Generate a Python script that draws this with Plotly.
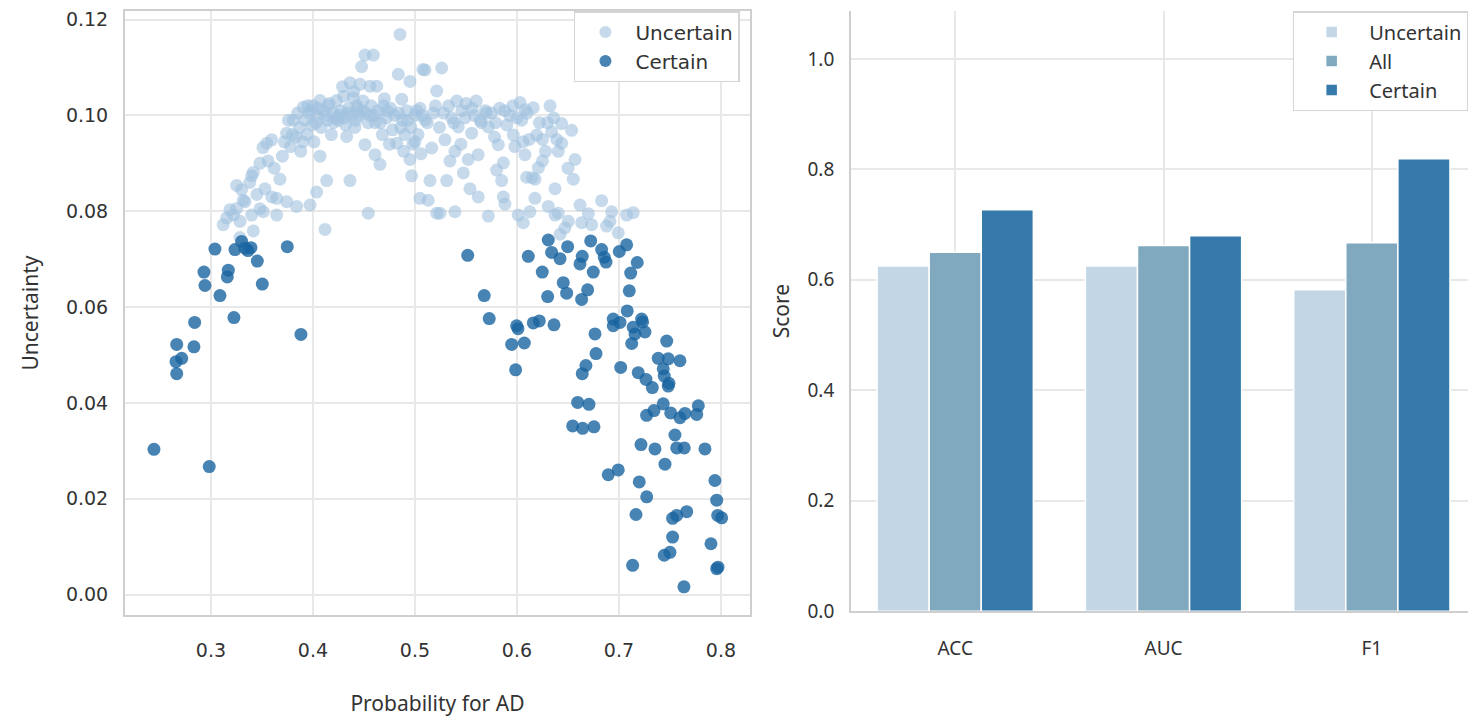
import plotly.graph_objects as go

# Scatter: probability for AD vs. uncertainty, split into uncertain / certain cases
uncertain_prob = [
    0.3120, 0.3154, 0.3186, 0.3219, 0.3252, 0.3284, 0.3284, 0.3317, 0.3333, 0.3252,
    0.3300, 0.3399, 0.3415, 0.3415, 0.3399, 0.3450, 0.3480, 0.3513, 0.3529, 0.3546,
    0.3510, 0.3560, 0.3595, 0.3595, 0.3644, 0.3644, 0.3676, 0.3620, 0.3480, 0.3380,
    0.3742, 0.3742, 0.3700, 0.3720, 0.3760, 0.3780, 0.3807, 0.3840, 0.3830, 0.3850,
    0.3870, 0.3880, 0.3905, 0.3920, 0.3940, 0.3971, 0.3960, 0.3990, 0.4000, 0.4010,
    0.4036, 0.4040, 0.4069, 0.4069, 0.4080, 0.4100, 0.4118, 0.4134, 0.4140, 0.4160,
    0.4180, 0.4200, 0.3900, 0.3800, 0.3950, 0.4232, 0.4250, 0.4270, 0.4300, 0.4320,
    0.4330, 0.4350, 0.4363, 0.4363, 0.4380, 0.4395, 0.4410, 0.4430, 0.4450, 0.4461,
    0.4477, 0.4490, 0.4510, 0.4510, 0.4520, 0.4542, 0.4559, 0.4570, 0.4592, 0.4608,
    0.4610, 0.4625, 0.4640, 0.4657, 0.4680, 0.4700, 0.4720, 0.4750, 0.4760, 0.4780,
    0.4400, 0.4290, 0.4821, 0.4836, 0.4853, 0.4870, 0.4880, 0.4900, 0.4920, 0.4951,
    0.4951, 0.4967, 0.4980, 0.5000, 0.5017, 0.5030, 0.5049, 0.5060, 0.5078, 0.5098,
    0.5100, 0.5130, 0.5147, 0.5164, 0.5180, 0.5213, 0.5213, 0.5245, 0.5262, 0.5294,
    0.5240, 0.4890, 0.5000, 0.5311, 0.5330, 0.5343, 0.5360, 0.5392, 0.5392, 0.5410,
    0.5425, 0.5460, 0.5474, 0.5500, 0.5522, 0.5539, 0.5556, 0.5580, 0.5600, 0.5620,
    0.5620, 0.5650, 0.5690, 0.5719, 0.5719, 0.5750, 0.5780, 0.5801, 0.5817, 0.5830,
    0.5850, 0.5866, 0.5866, 0.5882, 0.5900, 0.5930, 0.5964, 0.5980, 0.5960, 0.5450,
    0.6013, 0.6030, 0.6046, 0.6062, 0.6078, 0.6095, 0.6127, 0.6120, 0.6160, 0.6176,
    0.6176, 0.6193, 0.6210, 0.6250, 0.6307, 0.6324, 0.6340, 0.6300, 0.6373, 0.6373,
    0.6405, 0.6405, 0.6390, 0.6422, 0.6438, 0.6438, 0.6470, 0.6500, 0.6503, 0.6536,
    0.6552, 0.6569, 0.6618, 0.6634, 0.6732, 0.6700, 0.6830, 0.6879, 0.6912, 0.6928,
    0.6993, 0.7075, 0.7140, 0.6250, 0.6100, 0.6280, 0.6060, 0.6150,
    0.3980, 0.4030, 0.4120, 0.4200, 0.4260, 0.4310, 0.4420, 0.4480, 0.4540, 0.4600,
    0.4660, 0.4730, 0.4800, 0.4860, 0.4930, 0.5050, 0.5120, 0.5200, 0.5280, 0.5380,
    0.4050, 0.4150, 0.4220, 0.4340, 0.4440, 0.4560, 0.4690, 0.4840, 0.4960, 0.5070,
    0.5490, 0.5560, 0.5640, 0.5700, 0.5790, 0.5880, 0.6000, 0.6080, 0.6220, 0.6360,
]
uncertain_unc = [
    0.0772, 0.0786, 0.0803, 0.0792, 0.0806, 0.0745, 0.0779, 0.0823, 0.0820, 0.0854,
    0.0845, 0.0874, 0.0759, 0.0881, 0.0792, 0.0835, 0.0805, 0.0799, 0.0847, 0.0942,
    0.0933, 0.0905, 0.0949, 0.0830, 0.0792, 0.0827, 0.0867, 0.0890, 0.0900, 0.0860,
    0.0820, 0.0963, 0.0915, 0.0945, 0.0990, 0.0935, 0.0990, 0.0810, 0.0955, 0.1005,
    0.0975, 0.0925, 0.1017, 0.0990, 0.0960, 0.0813, 0.1005, 0.0980, 0.1020, 0.0945,
    0.0840, 0.1000, 0.1031, 0.0915, 0.0975, 0.1010, 0.0762, 0.0864, 0.0990, 0.1025,
    0.0960, 0.1005, 0.0945, 0.0960, 0.1020, 0.1031, 0.0990, 0.1010, 0.1040, 0.0980,
    0.0956, 0.1015, 0.0864, 0.1068, 0.1000, 0.1037, 0.0975, 0.1020, 0.1000, 0.1065,
    0.1102, 0.1030, 0.1126, 0.0939, 0.1005, 0.0796, 0.1061, 0.1020, 0.1126, 0.0918,
    0.0985, 0.1061, 0.1010, 0.0898, 0.0960, 0.1035, 0.0995, 0.0940, 0.1015, 0.0970,
    0.1050, 0.1060, 0.0942, 0.1086, 0.1169, 0.1034, 0.0990, 0.0960, 0.1010, 0.1071,
    0.0908, 0.0874, 0.0940, 0.1000, 0.1010, 0.0960, 0.0827, 0.0920, 0.1096, 0.1095,
    0.0990, 0.0823, 0.0864, 0.0932, 0.1005, 0.1051, 0.0796, 0.0796, 0.1099, 0.0949,
    0.0975, 0.0925, 0.0945, 0.0864, 0.1020, 0.0905, 0.0995, 0.0925, 0.0799, 0.1030,
    0.0976, 0.1010, 0.0880, 0.1025, 0.0908, 0.0847, 0.0963, 0.1000, 0.1030, 0.0918,
    0.0830, 0.0985, 0.1010, 0.0976, 0.0790, 0.1005, 0.0955, 0.0886, 0.0939, 0.1015,
    0.0864, 0.0830, 0.0901, 0.0815, 0.0980, 0.1000, 0.0959, 0.0935, 0.1020, 0.0940,
    0.0792, 0.1027, 0.0990, 0.0776, 0.0918, 0.0871, 0.0799, 0.0950, 0.1016, 0.0827,
    0.0867, 0.0959, 0.0891, 0.0905, 0.0810, 0.1020, 0.0966, 0.0985, 0.0847, 0.0792,
    0.0925, 0.0796, 0.0950, 0.0752, 0.0983, 0.0942, 0.0765, 0.0890, 0.0779, 0.0969,
    0.0867, 0.0908, 0.0813, 0.0776, 0.0772, 0.0795, 0.0822, 0.0769, 0.0779, 0.0799,
    0.0755, 0.0792, 0.0797, 0.0950, 0.1005, 0.0925, 0.0945, 0.0870,
    0.1010, 0.0985, 0.1000, 0.0985, 0.1000, 0.0995, 0.0990, 0.1010, 0.0985, 0.1000,
    0.0985, 0.1010, 0.1000, 0.0975, 0.0990, 0.1015, 0.0985, 0.1020, 0.1005, 0.0985,
    0.1015, 0.1020, 0.0995, 0.1005, 0.1015, 0.1000, 0.1020, 0.1005, 0.0975, 0.1000,
    0.0995, 0.1015, 0.0990, 0.1005, 0.0985, 0.1010, 0.0995, 0.1012, 0.0985, 0.0995,
]

certain_prob = [
    0.3039, 0.3235, 0.3301, 0.3333, 0.3392, 0.3363, 0.3454, 0.3748, 0.2931, 0.3170,
    0.3160, 0.2941, 0.3503, 0.3088, 0.3225, 0.2840, 0.3882, 0.2664, 0.2833, 0.2713,
    0.2657, 0.2664, 0.2441, 0.2983, 0.5517, 0.6307, 0.6111, 0.6340, 0.6422, 0.6497,
    0.6248, 0.6640, 0.6618, 0.6723, 0.6748, 0.6830, 0.6856, 0.6873, 0.7003, 0.7075,
    0.7179, 0.7115, 0.6454, 0.6487, 0.6693, 0.6634, 0.6301, 0.5679, 0.7101, 0.7081,
    0.5728, 0.5997, 0.6010, 0.6160, 0.6219, 0.6363, 0.6944, 0.7010, 0.6944, 0.7222,
    0.7232, 0.7140, 0.7255, 0.7157, 0.7125, 0.5948, 0.6072, 0.5987, 0.6765, 0.6775,
    0.6676, 0.6640, 0.7017, 0.7468, 0.7385, 0.7483, 0.7598, 0.7434, 0.7444, 0.7189,
    0.7265, 0.7327, 0.7483, 0.7490, 0.6595, 0.6706, 0.6546, 0.6644, 0.6755, 0.7271,
    0.7343, 0.7434, 0.7507, 0.7598, 0.7647, 0.7762, 0.7778, 0.7549, 0.7216, 0.7353,
    0.7566, 0.7640, 0.7843, 0.7451, 0.6895, 0.6993, 0.7199, 0.7272, 0.7941, 0.7958,
    0.7167, 0.7526, 0.7566, 0.7664, 0.7968, 0.8007, 0.7526, 0.7902, 0.7444, 0.7500,
    0.7134, 0.7958, 0.7971, 0.7637,
]
certain_unc = [
    0.0721, 0.0720, 0.0737, 0.0723, 0.0724, 0.0718, 0.0696, 0.0726, 0.0673, 0.0677,
    0.0663, 0.0645, 0.0648, 0.0624, 0.0578, 0.0568, 0.0543, 0.0522, 0.0517, 0.0493,
    0.0486, 0.0461, 0.0303, 0.0267, 0.0708, 0.0740, 0.0706, 0.0714, 0.0701, 0.0726,
    0.0673, 0.0706, 0.0690, 0.0738, 0.0673, 0.0720, 0.0704, 0.0694, 0.0716, 0.0730,
    0.0693, 0.0671, 0.0651, 0.0629, 0.0636, 0.0616, 0.0622, 0.0624, 0.0634, 0.0592,
    0.0576, 0.0561, 0.0555, 0.0567, 0.0571, 0.0563, 0.0575, 0.0568, 0.0561, 0.0575,
    0.0569, 0.0558, 0.0548, 0.0544, 0.0524, 0.0522, 0.0525, 0.0469, 0.0544, 0.0503,
    0.0478, 0.0461, 0.0474, 0.0529, 0.0493, 0.0492, 0.0488, 0.0471, 0.0456, 0.0463,
    0.0449, 0.0432, 0.0435, 0.0441, 0.0401, 0.0397, 0.0352, 0.0347, 0.0350, 0.0374,
    0.0384, 0.0398, 0.0379, 0.0369, 0.0378, 0.0376, 0.0394, 0.0333, 0.0313, 0.0304,
    0.0306, 0.0306, 0.0304, 0.0272, 0.0250, 0.0260, 0.0235, 0.0204, 0.0238, 0.0197,
    0.0167, 0.0159, 0.0165, 0.0173, 0.0165, 0.0160, 0.0120, 0.0106, 0.0082, 0.0088,
    0.0061, 0.0054, 0.0057, 0.0016,
]

# Bar chart: scores per metric and group
metrics = ["ACC", "AUC", "F1"]
score_uncertain = [0.625, 0.625, 0.582]
score_all = [0.650, 0.662, 0.667]
score_certain = [0.727, 0.680, 0.819]

light = "rgba(160,194,224,0.6)"
dark = "rgba(25,100,160,0.8)"
grid = "#e8e8e8"
spine = "#cfcfcf"
text = "#333333"

fig = go.Figure()

fig.add_trace(go.Scatter(
    x=uncertain_prob, y=uncertain_unc, mode="markers", name="Uncertain",
    marker=dict(size=13, color=light, line=dict(width=0)),
    xaxis="x", yaxis="y", legend="legend",
))
fig.add_trace(go.Scatter(
    x=certain_prob, y=certain_unc, mode="markers", name="Certain",
    marker=dict(size=13, color=dark, line=dict(width=0)),
    xaxis="x", yaxis="y", legend="legend",
))

bar_line = dict(color="white", width=1.5)
fig.add_trace(go.Bar(x=metrics, y=score_uncertain, name="Uncertain",
                     marker=dict(color="#c2d6e6", line=bar_line),
                     xaxis="x2", yaxis="y2", legend="legend2"))
fig.add_trace(go.Bar(x=metrics, y=score_all, name="All",
                     marker=dict(color="#80a8bf", line=bar_line),
                     xaxis="x2", yaxis="y2", legend="legend2"))
fig.add_trace(go.Bar(x=metrics, y=score_certain, name="Certain",
                     marker=dict(color="#357aaa", line=bar_line),
                     xaxis="x2", yaxis="y2", legend="legend2"))

tick_font = dict(family="DejaVu Sans", size=19, color=text)
right_tick_font = dict(family="Noto Sans", size=19, color=text)
title_font = dict(family="Noto Sans", size=21, color=text)

# the page body adds an 8px margin, so the figure is sized and placed to match
fig.update_layout(
    width=1468, height=714,
    margin=dict(l=0, r=0, t=0, b=0),
    paper_bgcolor="white", plot_bgcolor="white",
    barmode="group", bargap=0.25, bargroupgap=0,
    xaxis=dict(
        domain=[0.0797, 0.5054], range=[0.2157, 0.8284],
        tickvals=[0.3, 0.4, 0.5, 0.6, 0.7, 0.8], tickformat=".1f",
        showgrid=True, gridcolor=grid, gridwidth=1.5, zeroline=False,
        showline=True, linecolor=spine, linewidth=2, mirror=True,
        tickfont=tick_font, ticklabelstandoff=17,
        title=dict(text="Probability for AD", font=title_font, standoff=36),
    ),
    yaxis=dict(
        domain=[0.1345, 1.0], range=[-0.0043, 0.1218],
        tickvals=[0.0, 0.02, 0.04, 0.06, 0.08, 0.10, 0.12], tickformat=".2f",
        showgrid=True, gridcolor=grid, gridwidth=1.5, zeroline=False,
        showline=True, linecolor=spine, linewidth=2, mirror=True,
        tickfont=tick_font, ticklabelstandoff=11, ticklabeloverflow="allow",
        title=dict(text="Uncertainty", font=title_font, standoff=22),
    ),
    xaxis2=dict(
        domain=[0.5743, 1.0], range=[-0.5, 2.5], anchor="y2",
        showgrid=True, gridcolor=grid, gridwidth=1.5, zeroline=False,
        showline=True, linecolor=spine, linewidth=2,
        tickfont=right_tick_font, ticklabelstandoff=19,
    ),
    yaxis2=dict(
        domain=[0.1401, 1.0], range=[0, 1.0867], anchor="x2",
        tickvals=[0.0, 0.2, 0.4, 0.6, 0.8, 1.0], tickformat=".1f",
        showgrid=True, gridcolor=grid, gridwidth=1.5, zeroline=False,
        showline=True, linecolor=spine, linewidth=2,
        tickfont=right_tick_font, ticklabelstandoff=11,
        title=dict(text="Score", font=title_font, standoff=12),
    ),
    legend=dict(
        x=0.4986, y=1.0, xanchor="right", yanchor="top",
        bgcolor="white", bordercolor="#d5d5d5", borderwidth=1.5,
        font=dict(family="DejaVu Sans", size=20, color=text),
        itemsizing="constant", itemwidth=50,
    ),
    legend2=dict(
        x=0.995, y=1.0, xanchor="right", yanchor="top",
        bgcolor="white", bordercolor="#d5d5d5", borderwidth=1.5,
        font=dict(family="Noto Sans", size=20, color=text),
        itemwidth=65,
    ),
)

fig.write_html("out.html")
